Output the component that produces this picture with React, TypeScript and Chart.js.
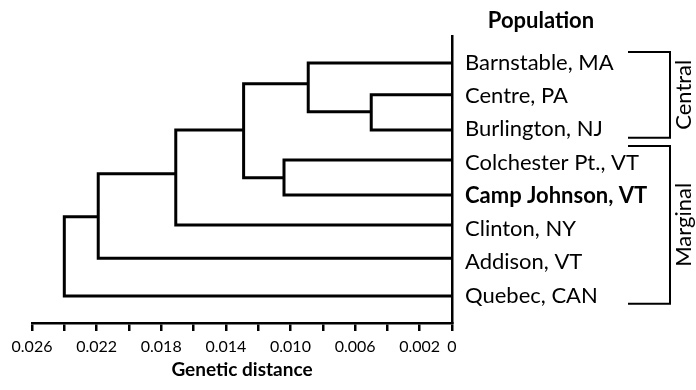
import { useEffect, useRef } from 'react';
import { Chart, registerables } from 'chart.js';

Chart.register(...registerables);

// ---- data ----
const leaves = [
  'Barnstable, MA',
  'Centre, PA',
  'Burlington, NJ',
  'Colchester Pt., VT',
  'Camp Johnson, VT',
  'Clinton, NY',
  'Addison, VT',
  'Quebec, CAN',
];
const boldLeaf = 'Camp Johnson, VT';
// vertical position of each leaf branch (leaf-index units)
const leafPos = [0, 0.96, 2.02, 2.92, 3.98, 4.88, 5.88, 7.02];

// merges: children are 'L<i>' (leaf) or 'N<k>' (earlier merge)
const mergeLeft = ['L1', 'L0', 'L3', 'N1', 'N3', 'N4', 'N5'];
const mergeRight = ['L2', 'N0', 'L4', 'N2', 'L5', 'L6', 'L7'];
const mergeHeight = [0.005, 0.0089, 0.0104, 0.0129, 0.0171, 0.0219, 0.024];
const mergePos = [1.47, 0.63, 3.46, 2.02, 3.34, 4.63, 5.8];

const xTickValues = [0, 0.002, 0.004, 0.006, 0.008, 0.01, 0.012, 0.014, 0.016, 0.018, 0.02, 0.022, 0.024, 0.026];
const xTickLabels = ['0', '0.002', '', '0.006', '', '0.010', '', '0.014', '', '0.018', '', '0.022', '', '0.026'];

const groupNames = ['Central', 'Marginal'];
const groupFirst = [0, 3];
const groupLast = [2, 7];

const xTitle = 'Genetic distance';
const yTitle = 'Population';

const FONT = 'Lato';

function nodeInfo(ref: string) {
  const idx = parseInt(ref.slice(1), 10);
  if (ref[0] === 'L') return { h: 0, y: leafPos[idx] };
  return { h: mergeHeight[idx], y: mergePos[idx] };
}

const annotPlugin = {
  id: 'annot',
  afterDraw(chart: any) {
    const { ctx, chartArea } = chart;
    const y = chart.scales.y;
    ctx.save();
    ctx.fillStyle = '#000';
    ctx.strokeStyle = '#000';
    ctx.textAlign = 'center';
    ctx.textBaseline = 'alphabetic';
    ctx.font = `bold 22px ${FONT}`;
    ctx.fillText(yTitle, 541, 28);
    ctx.font = `bold 19px ${FONT}`;
    ctx.fillText(xTitle, (chartArea.left + chartArea.right) / 2, 376);

    ctx.lineWidth = 2;
    ctx.lineJoin = 'miter';
    const bx0 = 628;
    const bx1 = 670;
    groupNames.forEach((name, g) => {
      const top = y.getPixelForValue(groupFirst[g] - (g === 0 ? 0.33 : 0.5));
      const bot = y.getPixelForValue(groupLast[g] + 0.25);
      ctx.beginPath();
      ctx.moveTo(bx0, top);
      ctx.lineTo(bx1, top);
      ctx.lineTo(bx1, bot);
      ctx.lineTo(bx0, bot);
      ctx.stroke();
      ctx.save();
      ctx.translate(691, (top + bot) / 2);
      ctx.rotate(-Math.PI / 2);
      ctx.font = `22px ${FONT}`;
      ctx.textAlign = 'center';
      ctx.fillText(name, 0, 0);
      ctx.restore();
    });
    ctx.restore();
  },
};

export default function App() {
  const ref = useRef<HTMLCanvasElement>(null);
  useEffect(() => {
    if (!ref.current) return;
    const datasets = mergeHeight.map((H, k) => {
      const a = nodeInfo(mergeLeft[k]);
      const b = nodeInfo(mergeRight[k]);
      return {
        data: [
          { x: a.h, y: a.y },
          { x: H, y: a.y },
          { x: H, y: b.y },
          { x: b.h, y: b.y },
        ],
        showLine: true,
        borderColor: '#000',
        borderWidth: 3,
        borderJoinStyle: 'miter' as const,
        borderCapStyle: 'butt' as const,
        pointRadius: 0,
        fill: false,
      };
    });
    const chart = new Chart(ref.current, {
      type: 'scatter',
      data: { datasets },
      options: {
        animation: false,
        responsive: false,
        events: [],
        layout: { padding: { left: 32, top: 36, right: 0, bottom: 0 } },
        plugins: { legend: { display: false }, tooltip: { enabled: false } },
        scales: {
          x: {
            type: 'linear',
            min: 0,
            max: 0.026,
            reverse: true,
            afterBuildTicks: (s: any) => {
              s.ticks = xTickValues.map((v) => ({ value: v }));
            },
            afterFit: (s: any) => {
              s.height = 67;
            },
            ticks: {
              autoSkip: false,
              maxRotation: 0,
              color: '#000',
              padding: 6,
              font: { family: FONT, size: 16 },
              callback: (_v: any, i: number) => xTickLabels[i],
            },
            grid: {
              display: true,
              drawOnChartArea: false,
              drawTicks: true,
              tickLength: 8,
              color: '#000',
              lineWidth: 2.5,
            },
            border: { display: true, color: '#000', width: 2.5 },
          },
          y: {
            type: 'linear',
            position: 'right',
            min: -0.81,
            max: 7.83,
            reverse: true,
            afterBuildTicks: (s: any) => {
              s.ticks = leaves.map((_, i) => ({ value: i }));
            },
            afterFit: (s: any) => {
              s.width = 244;
            },
            ticks: {
              autoSkip: false,
              color: '#000',
              padding: 13,
              font: (c: any) => ({
                family: FONT,
                size: 22,
                weight: leaves[c.index] === boldLeaf ? 'bold' : 'normal',
              }),
              callback: (_v: any, i: number) => leaves[i],
            },
            grid: { display: false, drawTicks: false },
            border: { display: true, color: '#000', width: 2.5 },
          },
        },
      },
      plugins: [annotPlugin],
    });
    return () => chart.destroy();
  }, []);
  return (
    <div style={{ position: 'fixed', left: 0, top: 0, width: 696, height: 390 }}>
      <canvas ref={ref} width={696} height={390} style={{ display: 'block' }} />
    </div>
  );
}
